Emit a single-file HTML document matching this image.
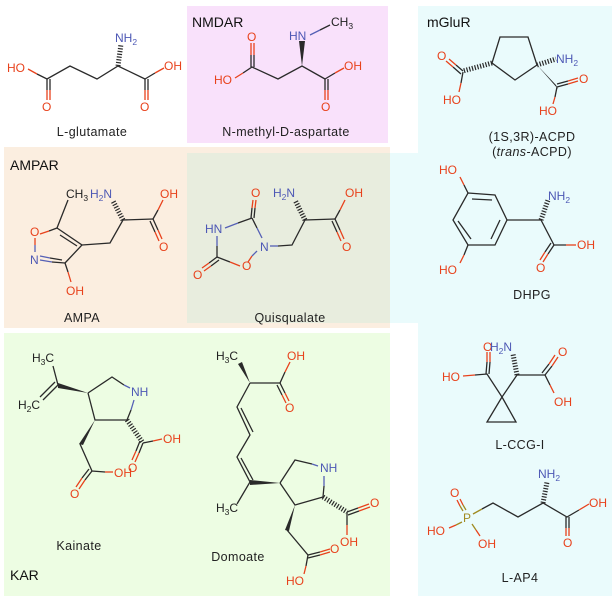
<!DOCTYPE html>
<html><head><meta charset="utf-8"><style>
html,body{margin:0;padding:0;background:#fff}
svg{display:block}
text{font-family:"Liberation Sans","DejaVu Sans",sans-serif;font-size:12px}
tspan[font-size]{font-size:8.5px}
.o{fill:#e8421c}.n{fill:#4d58b5}.k{fill:#222}.p{fill:#a08a20}
.b{stroke:#2a2a2a;stroke-width:1.3;fill:none}
.r{stroke:#e8421c;stroke-width:1.3;fill:none}
.u{stroke:#5560b5;stroke-width:1.3;fill:none}
.y{stroke:#a08a20;stroke-width:1.3;fill:none}
.h{stroke:#2a2a2a;stroke-width:5;stroke-dasharray:1.2,1.6;fill:none}
.t{font-size:14px;fill:#111}
.l{font-size:12.5px;fill:#222;letter-spacing:0.4px}
</style></head><body>
<svg width="616" height="600" viewBox="0 0 616 600" xmlns="http://www.w3.org/2000/svg">
<rect x="187" y="6" width="201" height="137" fill="#f9e1fb"/>
<rect x="4" y="147" width="386" height="181" fill="#fbeee0"/>
<rect x="390" y="153" width="28" height="170" fill="#eafbfc"/>
<rect x="187" y="153" width="203" height="170" fill="#e8edde"/>
<rect x="4" y="333" width="386" height="263" fill="#edfde3"/>
<rect x="418" y="6" width="194" height="590" fill="#eafbfc"/>

<!-- L-glutamate -->
<text x="7" y="72" class="o">HO</text>
<path class="r" d="M28,69 L37,74"/><path class="b" d="M37,74 L47,79 L70,66 L97,79 L118,66 L145,79"/>
<path class="b" d="M47,79 V90 M50,79 V90"/><path class="r" d="M47,90 V100 M50,90 V100"/>
<text x="42" y="111" class="o">O</text>
<path class="h" d="M118,66 L121,44"/>
<text x="115" y="42" class="n">NH<tspan font-size="8" dy="3">2</tspan></text>
<path class="b" d="M145,79 V90 M148,79 V90"/><path class="r" d="M145,90 V100 M148,90 V100"/>
<text x="140" y="111" class="o">O</text>
<path class="b" d="M145,79 L155,73"/><path class="r" d="M155,73 L164,68"/>
<text x="164" y="70" class="o">OH</text>
<text x="92" y="136" class="l" text-anchor="middle">L-glutamate</text>

<!-- NMDA -->
<text x="192" y="27" class="t">NMDAR</text>
<text x="214" y="84" class="o">HO</text>
<path class="r" d="M235,78 L243,73"/><path class="b" d="M243,73 L252,67 L278,79 L302,66 L325,79"/>
<path class="b" d="M251,67 V55 M254,67 V55"/><path class="r" d="M251,55 V43 M254,55 V43"/>
<text x="247" y="41" class="o">O</text>
<polygon points="302,66 299,41 305,41" fill="#2a2a2a"/>
<text x="289" y="40" class="n">HN</text>
<path class="u" d="M310,35 L320,30"/><path class="b" d="M320,30 L330,25"/>
<text x="331" y="26" class="k">CH<tspan font-size="8" dy="3">3</tspan></text>
<path class="b" d="M325,79 V90 M328,79 V90"/><path class="r" d="M325,90 V100 M328,90 V100"/>
<text x="321" y="111" class="o">O</text>
<path class="b" d="M325,79 L335,73"/><path class="r" d="M335,73 L344,68"/>
<text x="344" y="70" class="o">OH</text>
<text x="286" y="136" class="l" text-anchor="middle">N-methyl-D-aspartate</text>

<!-- AMPA -->
<text x="10" y="170" class="t">AMPAR</text>
<text x="66" y="198" class="k">CH<tspan font-size="8" dy="3">3</tspan></text>
<text x="90" y="198" class="n">H<tspan font-size="8" dy="3">2</tspan><tspan dy="-3">N</tspan></text>
<path class="b" d="M57,228 L68,200"/>
<path class="b" d="M57,228 L82,245 L65,263 M60,235 L77,246"/>
<path class="b" d="M57,228 L49,231"/><path class="r" d="M49,231 L40,234"/>
<text x="30" y="236" class="o">O</text>
<path class="r" d="M35,238 V245"/><path class="u" d="M35,245 V252"/>
<text x="30" y="264" class="n">N</text>
<path class="u" d="M40,260 L52,262 M40,256 L50,258"/><path class="b" d="M52,262 L65,263 M50,258 L62,260"/>
<path class="b" d="M65,263 L68,272"/><path class="r" d="M68,272 L71,282"/>
<text x="66" y="295" class="o">OH</text>
<path class="b" d="M82,245 L110,243 L123,220 L153,219"/>
<path class="h" d="M123,220 L113,201"/>
<path class="b" d="M153,219 L158,210"/><path class="r" d="M158,210 L163,200"/>
<text x="160" y="198" class="o">OH</text>
<path class="b" d="M153,219 L158,230 M150,221 L155,232"/><path class="r" d="M158,230 L162,239 M155,232 L159,241"/>
<text x="159" y="251" class="o">O</text>
<text x="82" y="322" class="l" text-anchor="middle">AMPA</text>

<!-- Quisqualate -->
<text x="251" y="197" class="o">O</text>
<path class="r" d="M253,200 L252,208 M256,200 L255,208"/><path class="b" d="M252,208 L251,218 M255,208 L254,218"/>
<text x="205" y="233" class="n">HN</text>
<path class="u" d="M225,228 L238,223"/><path class="b" d="M238,223 L252,218"/>
<path class="b" d="M252,218 L257,228"/><path class="u" d="M257,228 L262,238"/>
<text x="260" y="251" class="n">N</text>
<path class="u" d="M270,246 L278,246"/><path class="b" d="M278,246 L292,245 L305,220 L335,219"/>
<path class="u" d="M217,236 V246"/><path class="b" d="M217,246 V257"/>
<path class="b" d="M217,257 L230,262"/><path class="r" d="M230,262 L240,266"/>
<text x="242" y="270" class="o">O</text>
<path class="r" d="M248,262 L252,256"/><path class="u" d="M252,256 L257,251"/>
<path class="b" d="M217,257 L209,263 M219,260 L211,266"/><path class="r" d="M209,263 L202,268 M211,266 L204,271"/>
<text x="193" y="279" class="o">O</text>
<path class="h" d="M305,220 L295,200"/>
<text x="273" y="197" class="n">H<tspan font-size="8" dy="3">2</tspan><tspan dy="-3">N</tspan></text>
<path class="b" d="M335,219 L340,210"/><path class="r" d="M340,210 L345,200"/>
<text x="345" y="197" class="o">OH</text>
<path class="b" d="M335,219 L340,230 M332,221 L337,232"/><path class="r" d="M340,230 L344,239 M337,232 L341,241"/>
<text x="342" y="251" class="o">O</text>
<text x="290" y="322" class="l" text-anchor="middle">Quisqualate</text>

<!-- Kainate -->
<text x="32" y="362" class="k">H<tspan font-size="8" dy="3">3</tspan><tspan dy="-3">C</tspan></text>
<text x="18" y="409" class="k">H<tspan font-size="8" dy="3">2</tspan><tspan dy="-3">C</tspan></text>
<path class="b" d="M53,366 L58,385 M58,385 L43,400 M55,382 L40,397"/>
<polygon points="88,393 58,383 58,388" fill="#2a2a2a"/>
<path class="b" d="M88,393 L112,377 L124,385"/><path class="u" d="M124,385 L130,388"/>
<text x="131" y="396" class="n">NH</text>
<path class="u" d="M134,400 L131,410"/><path class="b" d="M131,410 L127,420 L95,420 L88,393"/>
<polygon points="95,420 79,444 83,445" fill="#2a2a2a"/>
<path class="b" d="M80,444 L92,471 L105,472"/><path class="r" d="M105,472 L113,472"/>
<path class="b" d="M92,471 L85,480 M89,469 L82,478"/><path class="r" d="M85,480 L79,489 M82,478 L76,487"/>
<text x="70" y="498" class="o">O</text>
<text x="114" y="477" class="o">OH</text>
<path class="h" d="M127,420 L143,443"/>
<path class="b" d="M143,443 L153,441"/><path class="r" d="M153,441 L162,439"/>
<text x="163" y="443" class="o">OH</text>
<path class="b" d="M143,443 L139,453 M140,441 L136,451"/><path class="r" d="M139,453 L135,462 M136,451 L132,460"/>
<text x="128" y="472" class="o">O</text>
<text x="79" y="550" class="l" text-anchor="middle">Kainate</text>
<text x="10" y="580" class="t">KAR</text>

<!-- Domoate -->
<text x="216" y="360" class="k">H<tspan font-size="8" dy="3">3</tspan><tspan dy="-3">C</tspan></text>
<polygon points="250,383 238,364 242,362" fill="#2a2a2a"/>
<path class="b" d="M250,383 L280,383 L285,372"/><path class="r" d="M285,372 L290,362"/>
<text x="287" y="360" class="o">OH</text>
<path class="b" d="M280,383 L285,393 M277,385 L282,395"/><path class="r" d="M285,393 L289,401 M282,395 L286,403"/>
<text x="285" y="412" class="o">O</text>
<path class="b" d="M250,383 L237,407 L250,435 L237,457 L250,482 L237,504 M241,408 L253,432 M241,458 L253,480"/>
<text x="216" y="512" class="k">H<tspan font-size="8" dy="3">3</tspan><tspan dy="-3">C</tspan></text>
<polygon points="250,480 250,485 280,483" fill="#2a2a2a"/>
<path class="b" d="M280,483 L295,460 L312,464"/><path class="u" d="M312,464 L318,466"/>
<text x="320" y="472" class="n">NH</text>
<path class="u" d="M324,476 L324,486"/><path class="b" d="M324,486 L323,497 L295,505 L280,483"/>
<path class="h" d="M323,497 L347,512"/>
<path class="b" d="M347,512 L358,508 M348,515 L359,511"/><path class="r" d="M358,508 L369,504 M359,511 L370,507"/>
<text x="370" y="507" class="o">O</text>
<path class="b" d="M347,512 V525"/><path class="r" d="M347,525 V535"/>
<text x="340" y="546" class="o">OH</text>
<polygon points="295,505 285,530 289,531" fill="#2a2a2a"/>
<path class="b" d="M287,530 L308,555 L320,552 M308,558 L320,555"/><path class="r" d="M320,552 L330,549 M320,555 L330,552"/>
<text x="330" y="553" class="o">O</text>
<path class="b" d="M308,555 L306,566"/><path class="r" d="M306,566 L304,574"/>
<text x="286" y="585" class="o">HO</text>
<text x="238" y="561" class="l" text-anchor="middle">Domoate</text>

<!-- ACPD -->
<text x="427" y="27" class="t">mGluR</text>
<path class="b" d="M500,37 L528,37 L537,65 L515,80 L492,63 Z"/>
<path class="h" d="M537,65 L556,59"/>
<text x="556" y="63" class="n">NH<tspan font-size="8" dy="3">2</tspan></text>
<polygon points="537,65 556,85 558,89" fill="#2a2a2a"/>
<path class="b" d="M557,87 L568,84 M557,84 L568,81"/><path class="r" d="M568,84 L578,81 M568,81 L578,78"/>
<text x="579" y="83" class="o">O</text>
<path class="b" d="M557,87 L555,97"/><path class="r" d="M555,97 L553,104"/>
<text x="539" y="115" class="o">HO</text>
<path class="h" d="M492,63 L463,71"/>
<path class="b" d="M463,71 L456,65 M461,74 L453,67"/><path class="r" d="M456,65 L449,59 M453,67 L446,61"/>
<text x="437" y="60" class="o">O</text>
<path class="b" d="M463,72 L461,83"/><path class="r" d="M461,83 L459,92"/>
<text x="443" y="104" class="o">HO</text>
<text x="532" y="141" class="l" text-anchor="middle">(1S,3R)-ACPD</text>
<text x="532" y="156" class="l" text-anchor="middle">(<tspan font-style="italic">trans</tspan>-ACPD)</text>

<!-- DHPG -->
<text x="439" y="174" class="o">HO</text>
<path class="r" d="M460,177 L464,185"/><path class="b" d="M464,185 L468,193"/>
<path class="b" d="M468,193 L495,195 L507,220 L495,245 L468,245 L453,220 Z M472,199 L492,200 M500,220 L491,239 M471,239 L458,221"/>
<path class="b" d="M468,245 L464,255"/><path class="r" d="M464,255 L460,263"/>
<text x="439" y="274" class="o">HO</text>
<path class="b" d="M507,220 L541,220 L554,245 L566,245"/><path class="r" d="M566,245 L576,245"/>
<text x="577" y="249" class="o">OH</text>
<path class="h" d="M541,220 L548,200"/>
<text x="548" y="200" class="n">NH<tspan font-size="8" dy="3">2</tspan></text>
<path class="b" d="M554,245 L548,254 M551,243 L545,252"/><path class="r" d="M548,254 L543,262 M545,252 L540,260"/>
<text x="536" y="272" class="o">O</text>
<text x="532" y="299" class="l" text-anchor="middle">DHPG</text>

<!-- L-CCG-I -->
<text x="442" y="381" class="o">HO</text>
<path class="r" d="M463,376 L475,375"/><path class="b" d="M475,375 L487,374 L502,397 L487,422 L516,422 L502,397 L517,375 L545,375"/>
<path class="b" d="M486,374 L487,362 M489,374 L490,362"/><path class="r" d="M487,362 L487,352 M490,362 L490,352"/>
<text x="483" y="351" class="o">O</text>
<text x="490" y="351" class="n">H<tspan font-size="8" dy="3">2</tspan><tspan dy="-3">N</tspan></text>
<path class="h" d="M517,375 L513,354"/>
<path class="b" d="M545,375 L552,366 M542,373 L549,364"/><path class="r" d="M552,366 L558,357 M549,364 L555,355"/>
<text x="558" y="356" class="o">O</text>
<path class="b" d="M545,375 L550,385"/><path class="r" d="M550,385 L554,393"/>
<text x="554" y="406" class="o">OH</text>
<text x="520" y="449" class="l" text-anchor="middle">L-CCG-I</text>

<!-- L-AP4 -->
<text x="450" y="497" class="o">O</text>
<path class="r" d="M457,500 L460,506 M460,499 L463,505"/><path class="y" d="M460,506 L463,511 M463,505 L466,510"/>
<text x="463" y="522" class="p">P</text>
<path class="y" d="M462,522 L456,525"/><path class="r" d="M456,525 L449,528"/>
<text x="427" y="535" class="o">HO</text>
<path class="y" d="M472,524 L476,530"/><path class="r" d="M476,530 L480,536"/>
<text x="478" y="548" class="o">OH</text>
<path class="y" d="M473,514 L482,509"/><path class="b" d="M482,509 L493,503 L518,517 L543,503 L567,517 L579,510"/><path class="r" d="M579,510 L589,504"/>
<text x="589" y="507" class="o">OH</text>
<path class="h" d="M543,503 L547,482"/>
<text x="538" y="478" class="n">NH<tspan font-size="8" dy="3">2</tspan></text>
<path class="b" d="M566,517 V528 M569,517 V528"/><path class="r" d="M566,528 V536 M569,528 V536"/>
<text x="563" y="547" class="o">O</text>
<text x="520" y="582" class="l" text-anchor="middle">L-AP4</text>
</svg>
</body></html>
